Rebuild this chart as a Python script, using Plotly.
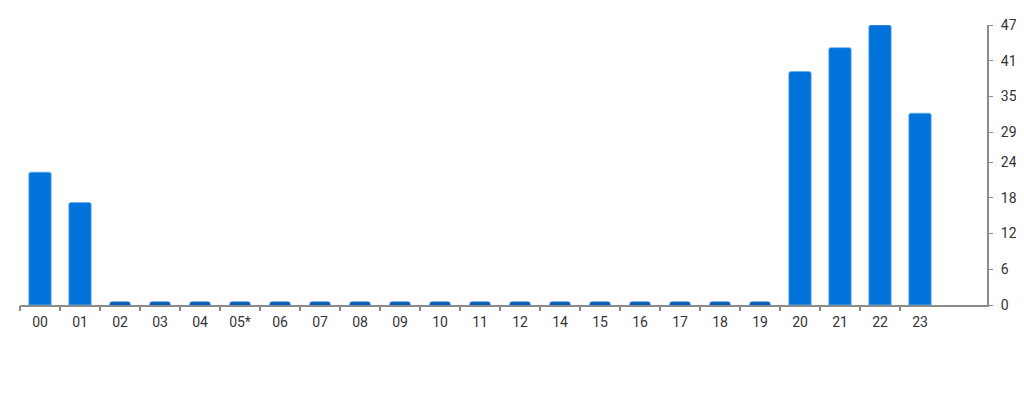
import plotly.graph_objects as go

categories = ["00", "01", "02", "03", "04", "05*", "06", "07", "08", "09", "10",
              "11", "12", "14", "15", "16", "17", "18", "19", "20", "21", "22", "23"]
values = [22.3, 17.2, 0.5, 0.5, 0.5, 0.5, 0.5, 0.5, 0.5, 0.5, 0.5,
          0.5, 0.5, 0.5, 0.5, 0.5, 0.5, 0.5, 0.5, 39.2, 43.2, 47, 32.2]
y_ticks = [0, 6, 12, 18, 24, 29, 35, 41, 47]

positions = list(range(len(categories)))
colors = ["#0a62bd" if v < 1 else "#0073da" for v in values]
line_colors = ["#0a62bd" if v < 1 else "rgba(110,175,240,0.7)" for v in values]
widths = [0.5 if v < 1 else 0.56 for v in values]

fig = go.Figure()
fig.add_trace(go.Bar(
    x=positions, y=values, width=widths,
    marker=dict(color=colors, line=dict(color=line_colors, width=1)),
    marker_cornerradius=2,
    hoverinfo="skip", showlegend=False,
))
fig.add_trace(go.Scatter(
    x=[-0.5], y=[0], xaxis="x2", mode="markers",
    marker=dict(opacity=0), showlegend=False, hoverinfo="skip",
))

x_range = [-0.5, 23.675]
fig.update_layout(
    width=1016, height=384,
    margin=dict(l=12, r=37, t=17, b=87, autoexpand=False),
    paper_bgcolor="white", plot_bgcolor="white",
    font=dict(family="Roboto", size=14, color="#333333"),
    xaxis=dict(
        range=x_range, tickvals=positions, ticktext=categories,
        ticks="", showgrid=False, zeroline=False,
        showline=True, linecolor="#8a8a8a", linewidth=2,
        tickfont=dict(size=14, color="#333333"),
        ticklabelstandoff=3, automargin=False,
    ),
    xaxis2=dict(
        overlaying="x", range=x_range,
        tickvals=[p - 0.5 for p in positions],
        ticks="outside", ticklen=5, tickwidth=1.5, tickcolor="#8a8a8a",
        showticklabels=False, showgrid=False, zeroline=False, showline=False,
        side="bottom",
    ),
    yaxis=dict(
        side="right", range=[0, 47], tickvals=y_ticks,
        ticks="outside", ticklen=4, tickcolor="#8a8a8a",
        showgrid=False, zeroline=False,
        showline=True, linecolor="#8a8a8a", linewidth=2,
        tickfont=dict(size=14, color="#333333"),
        ticklabelstandoff=5, automargin=False,
    ),
)

fig.write_html("out.html")
